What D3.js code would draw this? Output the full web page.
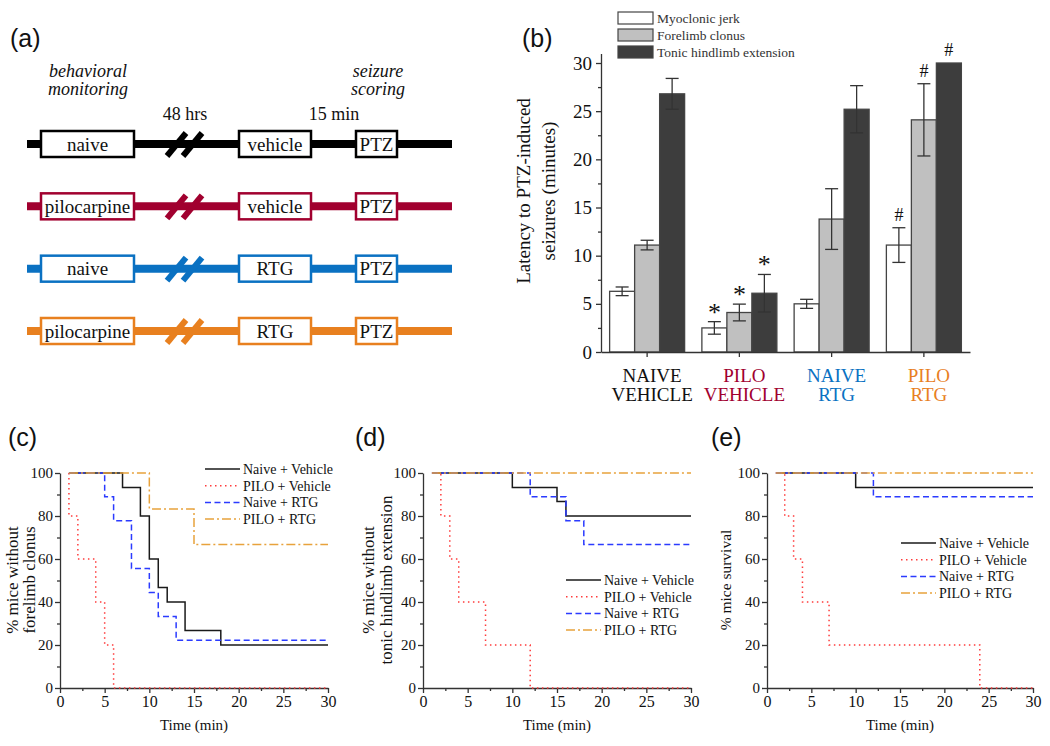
<!DOCTYPE html>
<html lang="en">
<head>
<meta charset="UTF-8">
<title>PTZ seizure latency and survival</title>
<style>
  body { margin: 0; background: #fff; }
  svg { display: block; }
  text { font-family: "Liberation Serif", "Times New Roman", serif; fill: #111; }
  .plabel { font-family: "Liberation Sans", Arial, sans-serif; font-size: 25px; }
  .domain, .tick line { stroke: #333; stroke-width: 1.3; }
</style>
<script src="https://d3js.org/d3.v7.min.js"></script>
</head>
<body>
<script>
// ---- panel (a): protocol rows
var rowPre = ["naive", "pilocarpine", "naive", "pilocarpine"];
var rowTreat = ["vehicle", "vehicle", "RTG", "RTG"];
var rowColors = ["#000000", "#a1002f", "#0a71c2", "#e8801f"];

// ---- panel (b): latency bars (minutes) and SEM
var groupTop = ["NAIVE", "PILO", "NAIVE", "PILO"];
var groupBottom = ["VEHICLE", "VEHICLE", "RTG", "RTG"];
var seizureTypes = ["Myoclonic jerk", "Forelimb clonus", "Tonic hindlimb extension"];
var typeFills = ["#ffffff", "#c0c0c0", "#3d3d3d"];
var myoclonicMean = [6.3, 2.5, 5.0, 11.1];
var myoclonicErr = [0.45, 0.65, 0.47, 1.8];
var forelimbMean = [11.1, 4.1, 13.8, 24.1];
var forelimbErr = [0.5, 0.87, 3.15, 3.75];
var tonicMean = [26.8, 6.1, 25.2, 30.0];
var tonicErr = [1.6, 1.95, 2.45, 0];
var sigMarks = ["", "*", "", "#"];
var latencyTicks = [0, 5, 10, 15, 20, 25, 30];

// ---- panels (c)-(e): Kaplan-Meier style step curves (time in min, % of mice)
var kmNames = ["Naive + Vehicle", "PILO + Vehicle", "Naive + RTG", "PILO + RTG"];
var kmColors = ["#1a1a1a", "#ff3b3b", "#2b3bff", "#e8a23c"];
var kmDash = [null, "1.5,3.5", "6,3.5", "9,3,2,3"];
var kmXTicks = [0, 5, 10, 15, 20, 25, 30];
var kmYTicks = [0, 20, 40, 60, 80, 100];

var fcNaiveVehT = [1, 7, 9, 10, 11, 12, 14, 18, 30];
var fcNaiveVehP = [100, 93.3, 80, 60, 46.7, 40, 26.7, 20, 20];
var fcPiloVehT = [1, 1, 2, 4, 5, 6, 30];
var fcPiloVehP = [100, 80, 60, 40, 20, 0, 0];
var fcNaiveRtgT = [1, 5, 6, 8, 10, 11, 13, 30];
var fcNaiveRtgP = [100, 88.9, 77.8, 55.6, 44.4, 33.3, 22.2, 22.2];
var fcPiloRtgT = [1, 10, 15, 30];
var fcPiloRtgP = [100, 83.3, 66.7, 66.7];

var thNaiveVehT = [1, 10, 15, 16, 30];
var thNaiveVehP = [100, 93.3, 86.7, 80, 80];
var thPiloVehT = [1, 2, 3, 4, 7, 12, 30];
var thPiloVehP = [100, 80, 60, 40, 20, 0, 0];
var thNaiveRtgT = [1, 12, 16, 18, 30];
var thNaiveRtgP = [100, 88.9, 77.8, 66.7, 66.7];
var thPiloRtgT = [1, 30];
var thPiloRtgP = [100, 100];

var svNaiveVehT = [1, 10, 30];
var svNaiveVehP = [100, 93.3, 93.3];
var svPiloVehT = [1, 2, 3, 4, 7, 24, 30];
var svPiloVehP = [100, 80, 60, 40, 20, 0, 0];
var svNaiveRtgT = [1, 12, 30];
var svNaiveRtgP = [100, 88.9, 88.9];
var svPiloRtgT = [1, 30];
var svPiloRtgP = [100, 100];

var svg = d3.select("body").append("svg")
  .attr("width", 1050).attr("height", 746);

// panel letters
[["(a)", 10, 47], ["(b)", 522, 47], ["(c)", 8, 446], ["(d)", 355, 446], ["(e)", 711, 446]]
  .forEach(function (d) {
    svg.append("text").attr("class", "plabel").attr("x", d[1]).attr("y", d[2]).text(d[0]);
  });

// ================= panel (a)
(function () {
  var g = svg.append("g");
  var rowY = d3.scalePoint().domain(d3.range(rowPre.length)).range([144, 331]);

  g.append("text").attr("x", 88).attr("y", 77).attr("text-anchor", "middle")
    .style("font-style", "italic").style("font-size", "18px").text("behavioral");
  g.append("text").attr("x", 88).attr("y", 95).attr("text-anchor", "middle")
    .style("font-style", "italic").style("font-size", "18px").text("monitoring");
  g.append("text").attr("x", 378).attr("y", 77).attr("text-anchor", "middle")
    .style("font-style", "italic").style("font-size", "18px").text("seizure");
  g.append("text").attr("x", 378).attr("y", 95).attr("text-anchor", "middle")
    .style("font-style", "italic").style("font-size", "18px").text("scoring");
  g.append("text").attr("x", 185).attr("y", 120).attr("text-anchor", "middle")
    .style("font-size", "18px").text("48 hrs");
  g.append("text").attr("x", 334).attr("y", 120).attr("text-anchor", "middle")
    .style("font-size", "18px").text("15 min");

  rowPre.forEach(function (pre, i) {
    var c = rowColors[i];
    var r = g.append("g").attr("transform", "translate(0," + rowY(i) + ")");
    r.append("line").attr("x1", 27).attr("x2", 452)
      .attr("stroke", c).attr("stroke-width", 8);
    [0, 16].forEach(function (dx) {
      r.append("line").attr("x1", 167 + dx).attr("y1", 12).attr("x2", 186 + dx).attr("y2", -11)
        .attr("stroke", c).attr("stroke-width", 6);
    });
    var boxes = [[41, 134, pre], [239, 311, rowTreat[i]], [356, 397, "PTZ"]];
    boxes.forEach(function (b) {
      r.append("rect").attr("x", b[0]).attr("y", -13).attr("width", b[1] - b[0]).attr("height", 26)
        .attr("fill", "#fff").attr("stroke", c).attr("stroke-width", 2.5);
      r.append("text").attr("x", (b[0] + b[1]) / 2).attr("y", 0).attr("dy", "0.35em")
        .attr("text-anchor", "middle").style("font-size", "19px").text(b[2]);
    });
  });
})();

// ================= panel (b)
(function () {
  var g = svg.append("g");
  var x0 = d3.scaleBand().domain(d3.range(groupTop.length)).range([601, 970])
    .paddingInner(0.187).paddingOuter(0.0935);
  var x1 = d3.scaleBand().domain(d3.range(seizureTypes.length)).range([0, x0.bandwidth()]);
  var y = d3.scaleLinear().domain([0, 31]).range([352, 352 - 31 * 9.633]);

  var means = [myoclonicMean, forelimbMean, tonicMean];
  var errs = [myoclonicErr, forelimbErr, tonicErr];

  groupTop.forEach(function (gt, gi) {
    means.forEach(function (m, ti) {
      var xb = x0(gi) + x1(ti);
      var cx = xb + x1.bandwidth() / 2;
      g.append("rect").attr("x", xb).attr("y", y(m[gi]))
        .attr("width", x1.bandwidth()).attr("height", y(0) - y(m[gi]))
        .attr("fill", typeFills[ti]).attr("stroke", "#444").attr("stroke-width", 1.3);
      var e = errs[ti][gi];
      if (e > 0) {
        var eg = g.append("g").attr("stroke", "#333").attr("stroke-width", 1.3);
        eg.append("line").attr("x1", cx).attr("x2", cx)
          .attr("y1", y(m[gi] - e)).attr("y2", y(m[gi] + e));
        [m[gi] - e, m[gi] + e].forEach(function (v) {
          eg.append("line").attr("x1", cx - 6.5).attr("x2", cx + 6.5)
            .attr("y1", y(v)).attr("y2", y(v));
        });
      }
      var mark = sigMarks[gi];
      if (mark === "*") {
        g.append("text").attr("x", cx).attr("y", y(m[gi] + e) - 1)
          .attr("text-anchor", "middle").style("font-size", "26px").text("*");
      } else if (mark === "#") {
        g.append("text").attr("x", cx).attr("y", y(m[gi] + e) - 7)
          .attr("text-anchor", "middle").style("font-size", "18px").text("#");
      }
    });
    var lx = x0(gi) + x0.bandwidth() / 2 + 5;
    g.append("text").attr("x", lx).attr("y", 382).attr("text-anchor", "middle")
      .style("font-size", "19px").style("fill", rowColors[gi] === "#000000" ? "#111" : rowColors[gi])
      .text(gt);
    g.append("text").attr("x", lx).attr("y", 401).attr("text-anchor", "middle")
      .style("font-size", "19px").style("fill", rowColors[gi] === "#000000" ? "#111" : rowColors[gi])
      .text(groupBottom[gi]);
  });

  // axes
  g.append("g").attr("transform", "translate(601,0)")
    .call(d3.axisLeft(y).tickValues(latencyTicks).tickSize(5).tickSizeOuter(0).tickPadding(4))
    .call(function (a) { a.selectAll("text").style("font-size", "19px").style("font-family", "Liberation Serif"); });
  g.append("g").attr("transform", "translate(601,0)")
    .call(d3.axisLeft(y).tickValues(d3.range(2.5, 30, 5)).tickSize(3).tickSizeOuter(0).tickFormat(""))
    .select(".domain").remove();
  g.append("g").attr("transform", "translate(0,352)")
    .call(d3.axisBottom(x0).tickSize(5).tickSizeOuter(0).tickFormat(""));

  g.append("text").attr("transform", "translate(530,191) rotate(-90)")
    .attr("text-anchor", "middle").style("font-size", "19px").text("Latency to PTZ-induced");
  g.append("text").attr("transform", "translate(555,191) rotate(-90)")
    .attr("text-anchor", "middle").style("font-size", "19px").text("seizures (minutes)");

  // legend
  seizureTypes.forEach(function (t, i) {
    var ly = 12 + i * 17;
    g.append("rect").attr("x", 618).attr("y", ly).attr("width", 35).attr("height", 12)
      .attr("fill", typeFills[i]).attr("stroke", "#444").attr("stroke-width", 1.2);
    g.append("text").attr("x", 657).attr("y", ly + 6).attr("dy", "0.35em")
      .style("font-size", "13.5px").style("fill", "#333").text(t);
  });
})();

// ================= panels (c)-(e)
function kmPanel(p) {
  var g = svg.append("g");
  var x = d3.scaleLinear().domain([0, 30]).range([p.x0, p.x1]);
  var y = d3.scaleLinear().domain([0, 100]).range([688, 473]);

  g.append("g").attr("transform", "translate(0,688)")
    .call(d3.axisBottom(x).tickValues(kmXTicks).tickSize(5).tickSizeOuter(0).tickPadding(3))
    .call(function (a) { a.selectAll("text").style("font-size", "16px").style("font-family", "Liberation Serif"); });
  g.append("g").attr("transform", "translate(0,688)")
    .call(d3.axisBottom(x).tickValues(d3.range(2.5, 30, 5)).tickSize(3).tickFormat(""))
    .select(".domain").remove();
  g.append("g").attr("transform", "translate(" + p.x0 + ",0)")
    .call(d3.axisLeft(y).tickValues(kmYTicks).tickSize(5).tickSizeOuter(0).tickPadding(2))
    .call(function (a) { a.selectAll("text").style("font-size", "15px").style("font-family", "Liberation Serif"); });
  g.append("g").attr("transform", "translate(" + p.x0 + ",0)")
    .call(d3.axisLeft(y).tickValues(d3.range(10, 100, 20)).tickSize(3).tickFormat(""))
    .select(".domain").remove();

  var line = d3.line().curve(d3.curveStepAfter)
    .x(function (d) { return x(d[0]); }).y(function (d) { return y(d[1]); });
  p.series.forEach(function (s, i) {
    var pts = s[0].map(function (t, k) { return [t, s[1][k]]; });
    g.append("path").attr("d", line(pts)).attr("fill", "none")
      .attr("stroke", kmColors[i]).attr("stroke-width", 1.5)
      .attr("stroke-dasharray", kmDash[i]);
  });

  g.append("text").attr("x", (p.x0 + p.x1) / 2).attr("y", 730).attr("text-anchor", "middle")
    .style("font-size", "15px").text("Time (min)");
  p.ylab.forEach(function (t, i) {
    g.append("text").attr("transform", "translate(" + p.ylabX[i] + ",580) rotate(-90)")
      .attr("text-anchor", "middle").attr("dy", "0.35em").style("font-size", p.ylabSize + "px").text(t);
  });

  kmNames.forEach(function (n, i) {
    var ly = p.legY + i * 16.7;
    g.append("line").attr("x1", p.legX).attr("x2", p.legX + 35).attr("y1", ly).attr("y2", ly)
      .attr("stroke", kmColors[i]).attr("stroke-width", 1.5).attr("stroke-dasharray", kmDash[i]);
    g.append("text").attr("x", p.legX + 38).attr("y", ly).attr("dy", "0.35em")
      .style("font-size", "14px").text(n);
  });
}

kmPanel({
  x0: 60, x1: 328, ylab: ["% mice without", "forelimb clonus"], ylabX: [12, 29], ylabSize: 17,
  legX: 205, legY: 469,
  series: [[fcNaiveVehT, fcNaiveVehP], [fcPiloVehT, fcPiloVehP], [fcNaiveRtgT, fcNaiveRtgP], [fcPiloRtgT, fcPiloRtgP]]
});
kmPanel({
  x0: 423, x1: 691, ylab: ["% mice without", "tonic hindlimb extension"], ylabX: [368, 386], ylabSize: 17,
  legX: 566, legY: 580,
  series: [[thNaiveVehT, thNaiveVehP], [thPiloVehT, thPiloVehP], [thNaiveRtgT, thNaiveRtgP], [thPiloRtgT, thPiloRtgP]]
});
kmPanel({
  x0: 767, x1: 1033, ylab: ["% mice survival"], ylabX: [726], ylabSize: 15.5,
  legX: 901, legY: 543,
  series: [[svNaiveVehT, svNaiveVehP], [svPiloVehT, svPiloVehP], [svNaiveRtgT, svNaiveRtgP], [svPiloRtgT, svPiloRtgP]]
});
</script>
</body>
</html>
